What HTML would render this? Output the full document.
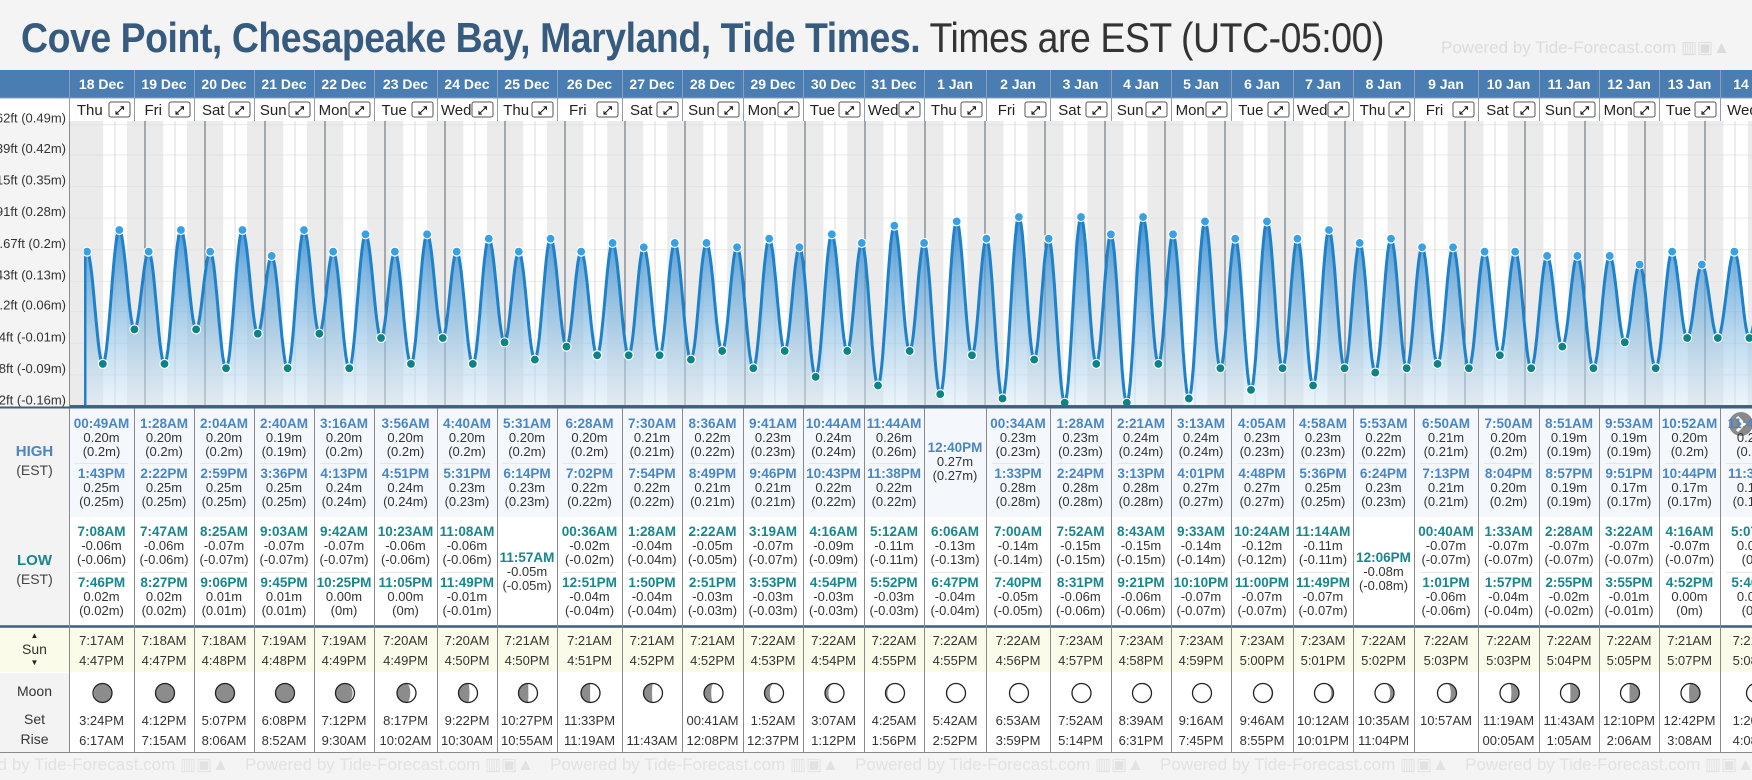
<!DOCTYPE html>
<html><head><meta charset="utf-8">
<style>
body{margin:0;width:1752px;height:780px;overflow:hidden;background:#f4f4f4;font-family:"Liberation Sans",Arial,sans-serif;position:relative}
.abs{position:absolute}
#title{left:21px;top:14px;font-size:42px;white-space:nowrap;transform-origin:0 0;letter-spacing:-0.5px}
#title b{color:#365b7e}
#title span{color:#333}
#powered{left:1441px;top:38px;font-size:17px;color:#dcdcdc;white-space:nowrap}
.cell{position:absolute;text-align:center;font-size:13px;color:#333;line-height:14px;white-space:nowrap}
.ht{color:#4a86c4;font-weight:bold;font-size:13.5px}
.lt{color:#17878d;font-weight:bold;font-size:13.5px}
</style></head>
<body>
<div id="title" class="abs"><b>Cove Point, Chesapeake Bay, Maryland, Tide Times.</b> <span>Times are EST (UTC-05:00)</span></div>
<div id="powered" class="abs">Powered by Tide-Forecast.com ▥▣▲</div>
<svg id="chart" class="abs" style="left:0;top:0" width="1752" height="780"></svg>
<div id="table" class="abs" style="left:0;top:0;width:1752px;height:780px"></div>
<script>
// ---------- data ----------
const days=["18 Dec","19 Dec","20 Dec","21 Dec","22 Dec","23 Dec","24 Dec","25 Dec","26 Dec","27 Dec","28 Dec","29 Dec","30 Dec","31 Dec","1 Jan","2 Jan","3 Jan","4 Jan","5 Jan","6 Jan","7 Jan","8 Jan","9 Jan","10 Jan","11 Jan","12 Jan","13 Jan","14 Jan"];
const weekdays=["Thu","Fri","Sat","Sun","Mon","Tue","Wed","Thu","Fri","Sat","Sun","Mon","Tue","Wed","Thu","Fri","Sat","Sun","Mon","Tue","Wed","Thu","Fri","Sat","Sun","Mon","Tue","Wed"];
const highs=[
[["00:49AM",0.20],["1:43PM",0.25]],[["1:28AM",0.20],["2:22PM",0.25]],[["2:04AM",0.20],["2:59PM",0.25]],[["2:40AM",0.19],["3:36PM",0.25]],
[["3:16AM",0.20],["4:13PM",0.24]],[["3:56AM",0.20],["4:51PM",0.24]],[["4:40AM",0.20],["5:31PM",0.23]],[["5:31AM",0.20],["6:14PM",0.23]],
[["6:28AM",0.20],["7:02PM",0.22]],[["7:30AM",0.21],["7:54PM",0.22]],[["8:36AM",0.22],["8:49PM",0.21]],[["9:41AM",0.23],["9:46PM",0.21]],
[["10:44AM",0.24],["10:43PM",0.22]],[["11:44AM",0.26],["11:38PM",0.22]],[["12:40PM",0.27]],[["00:34AM",0.23],["1:33PM",0.28]],
[["1:28AM",0.23],["2:24PM",0.28]],[["2:21AM",0.24],["3:13PM",0.28]],[["3:13AM",0.24],["4:01PM",0.27]],[["4:05AM",0.23],["4:48PM",0.27]],
[["4:58AM",0.23],["5:36PM",0.25]],[["5:53AM",0.22],["6:24PM",0.23]],[["6:50AM",0.21],["7:13PM",0.21]],[["7:50AM",0.20],["8:04PM",0.20]],
[["8:51AM",0.19],["8:57PM",0.19]],[["9:53AM",0.19],["9:51PM",0.17]],[["10:52AM",0.20],["10:44PM",0.17]],[["11:45AM",0.20],["11:34PM",0.17]]];
const lows=[
[["7:08AM",-0.06],["7:46PM",0.02]],[["7:47AM",-0.06],["8:27PM",0.02]],[["8:25AM",-0.07],["9:06PM",0.01]],[["9:03AM",-0.07],["9:45PM",0.01]],
[["9:42AM",-0.07],["10:25PM",0.00]],[["10:23AM",-0.06],["11:05PM",-0.00]],[["11:08AM",-0.06],["11:49PM",-0.01]],[["11:57AM",-0.05]],
[["00:36AM",-0.02],["12:51PM",-0.04]],[["1:28AM",-0.04],["1:50PM",-0.04]],[["2:22AM",-0.05],["2:51PM",-0.03]],[["3:19AM",-0.07],["3:53PM",-0.03]],
[["4:16AM",-0.09],["4:54PM",-0.03]],[["5:12AM",-0.11],["5:52PM",-0.03]],[["6:06AM",-0.13],["6:47PM",-0.04]],[["7:00AM",-0.14],["7:40PM",-0.05]],
[["7:52AM",-0.15],["8:31PM",-0.06]],[["8:43AM",-0.15],["9:21PM",-0.06]],[["9:33AM",-0.14],["10:10PM",-0.07]],[["10:24AM",-0.12],["11:00PM",-0.07]],
[["11:14AM",-0.11],["11:49PM",-0.07]],[["12:06PM",-0.08]],[["00:40AM",-0.07],["1:01PM",-0.06]],[["1:33AM",-0.07],["1:57PM",-0.04]],
[["2:28AM",-0.07],["2:55PM",-0.02]],[["3:22AM",-0.07],["3:55PM",-0.01]],[["4:16AM",-0.07],["4:52PM",-0.00]],[["5:07AM",-0.00],["5:46PM",0.00]]];
const prevLow=["7:05PM",0.02];
const sunrise=["7:17AM","7:18AM","7:18AM","7:19AM","7:19AM","7:20AM","7:20AM","7:21AM","7:21AM","7:21AM","7:21AM","7:22AM","7:22AM","7:22AM","7:22AM","7:22AM","7:23AM","7:23AM","7:23AM","7:23AM","7:23AM","7:22AM","7:22AM","7:22AM","7:22AM","7:22AM","7:21AM","7:21AM"];
const sunset=["4:47PM","4:47PM","4:48PM","4:48PM","4:49PM","4:49PM","4:50PM","4:50PM","4:51PM","4:52PM","4:52PM","4:53PM","4:54PM","4:55PM","4:55PM","4:56PM","4:57PM","4:58PM","4:59PM","5:00PM","5:01PM","5:02PM","5:03PM","5:03PM","5:04PM","5:05PM","5:07PM","5:08PM"];
const moonset=["3:24PM","4:12PM","5:07PM","6:08PM","7:12PM","8:17PM","9:22PM","10:27PM","11:33PM","","00:41AM","1:52AM","3:07AM","4:25AM","5:42AM","6:53AM","7:52AM","8:39AM","9:16AM","9:46AM","10:12AM","10:35AM","10:57AM","11:19AM","11:43AM","12:10PM","12:42PM","1:20PM"];
const moonrise=["6:17AM","7:15AM","8:06AM","8:52AM","9:30AM","10:02AM","10:30AM","10:55AM","11:19AM","11:43AM","12:08PM","12:37PM","1:12PM","1:56PM","2:52PM","3:59PM","5:14PM","6:31PM","7:45PM","8:55PM","10:01PM","11:04PM","","00:05AM","1:05AM","2:06AM","3:08AM","4:08AM"];
const moonIllum=[0.05,0.02,0.0,0.03,0.1,0.3,0.42,0.48,0.52,0.55,0.62,0.72,0.82,0.9,0.96,1.0,1.0,1.0,1.0,0.95,0.88,0.8,0.7,0.6,0.52,0.47,0.42,0.35];
const moonWaxing=[0,0,1,1,1,1,1,1,1,1,1,1,1,1,1,1,1,0,0,0,0,0,0,0,0,0,0,0];
const tickFt=[-0.52,-0.28,-0.04,0.2,0.43,0.67,0.91,1.15,1.39,1.62];
const tickM=[-0.16,-0.09,-0.01,0.06,0.13,0.2,0.28,0.35,0.42,0.49];

// ---------- layout ----------
const colB=[69,134,194,254,314,374,437,497,557,622,682,743,803,864,924,986,1050,1111,1171,1231,1293,1353,1414,1478,1539,1599,1659,1720,1790];
const X0=85, PXDAY=60, CT=121, CB=406;
function mins(s){let m=s.match(/(\d+):(\d+)(AM|PM)/);let h=+m[1]%12;if(m[3]=="PM")h+=12;return h*60+ +m[2];}
function xT(day,s){return X0+(day+mins(s)/1440)*PXDAY;}
function yM(m){return 338-m*432;}
const NS="http://www.w3.org/2000/svg";
const svg=document.getElementById('chart');
function mk(tag,attrs,parent){const e=document.createElementNS(NS,tag);for(const k in attrs)e.setAttribute(k,attrs[k]);(parent||svg).appendChild(e);return e;}

// header
mk('rect',{x:0,y:70,width:1752,height:28,fill:'#4a7db2'});
mk('rect',{x:0,y:98,width:1752,height:23,fill:'#fff'});
mk('rect',{x:0,y:121,width:69,height:285,fill:'#f4f4f4'});
// chart background (night)
mk('rect',{x:69,y:CT,width:1683,height:CB-CT,fill:'#ebebeb'});
const dayG=mk('g',{});


for(let d=0;d<days.length;d++){
  const a=xT(d,sunrise[d]),b=xT(d,sunset[d]);
  mk('rect',{x:a,y:CT,width:b-a,height:CB-CT,fill:'#ffffff'},dayG);
}
// gridlines
for(let i=0;i<tickFt.length;i++){
  const y=yM(tickFt[i]*0.3048);
  mk('line',{x1:69,x2:1752,y1:y,y2:y,stroke:'#dcdcdc','stroke-opacity':0.6,'stroke-width':1});
}
for(let d=0;d<days.length;d++){
  const xn=X0+(d+0.5)*PXDAY;
  mk('line',{x1:xn,x2:xn,y1:CT,y2:CB,stroke:'#d8d8d8','stroke-width':1});
  if(d>0){const xm=X0+d*PXDAY;
    const l=mk('line',{x1:xm,x2:xm,y1:CT,y2:CB,stroke:'#5a6470','stroke-width':1});
    
    }
}
// extremes
let ext=[{t:xT(-1,prevLow[0]),h:prevLow[1],k:'L'}];
for(let d=0;d<days.length;d++){
  highs[d].forEach(e=>ext.push({t:xT(d,e[0]),h:e[1],k:'H'}));
  lows[d].forEach(e=>ext.push({t:xT(d,e[0]),h:e[1],k:'L'}));
}
ext.sort((a,b)=>a.t-b.t);
let pts=[];
for(let i=0;i<ext.length-1;i++){
  const a=ext[i],b=ext[i+1];
  for(let s=0;s<14;s++){const f=s/14;const h=a.h+(b.h-a.h)*(1-Math.cos(Math.PI*f))/2;pts.push([a.t+(b.t-a.t)*f,yM(h)]);}
}
const last=ext[ext.length-1];pts.push([last.t,yM(last.h)]);
const defs=mk('defs',{});
const cp=mk('clipPath',{id:'cp'},defs);mk('rect',{x:84,y:CT,width:1668,height:CB-CT},cp);
const gr=mk('linearGradient',{id:'gf',x1:0,y1:0,x2:0,y2:1,gradientUnits:'objectBoundingBox'},defs);
mk('stop',{offset:'0','stop-color':'#2f86cc','stop-opacity':0.9},gr);
mk('stop',{offset:'0.55','stop-color':'#7ab4de','stop-opacity':0.6},gr);
mk('stop',{offset:'1','stop-color':'#d9eaf7','stop-opacity':0.5},gr);
const g=mk('g',{'clip-path':'url(#cp)'});
let dline=pts.map((p,i)=>(i?'L':'M')+p[0].toFixed(1)+','+p[1].toFixed(1)).join('');
const area=mk('path',{d:dline+`L${pts[pts.length-1][0]},${CB}L${pts[0][0]},${CB}Z`,fill:'url(#gf)'},g);


const curve=mk('path',{d:dline,fill:'none',stroke:'#1e82cb','stroke-width':3},g);


mk('line',{x1:85,x2:85,y1:yM(0.20),y2:CB,stroke:'#1e82cb','stroke-width':3},g);
ext.forEach(e=>{
  const c=mk('circle',{cx:e.t,cy:yM(e.h),r:4.5,fill:e.k=='H'?'#38a0e4':'#0c8386',stroke:'#fff','stroke-width':1.2},g);
  
  
});
mk('line',{x1:69,x2:1752,y1:CB+0.5,y2:CB+0.5,stroke:'#2f6aa3','stroke-width':3});
// y axis labels
const yax=mk('g',{});


for(let i=0;i<tickFt.length;i++){
  const t=mk('text',{x:66,y:yM(tickFt[i]*0.3048)-2,'text-anchor':'end','font-size':13,fill:'#333'},yax);
  t.textContent=tickFt[i]+'ft ('+tickM[i]+'m)';
  
  
}
mk('line',{x1:69.5,x2:69.5,y1:70,y2:752,stroke:'#8a8a8a','stroke-width':1});
// header columns
for(let d=0;d<days.length;d++){
  const a=colB[d],b=colB[d+1],cx=(a+b)/2;
  const t=mk('text',{x:cx,y:89,'text-anchor':'middle','font-size':14,'font-weight':'bold',fill:'#fff'});
  t.textContent=days[d];
  
  
  const w=mk('text',{x:a+(b-a)*0.32,y:115,'text-anchor':'middle','font-size':15,fill:'#222'});
  w.textContent=weekdays[d];
  
  
  const bx=mk('rect',{x:b-25,y:102,width:21,height:15,rx:2,fill:'#fff',stroke:'#555','stroke-width':1});
  
  
  mk('text',{x:b-14.5,y:114,'text-anchor':'middle','font-size':11,fill:'#111','font-weight':'bold'}).textContent='⤢';
  mk('line',{x1:a+0.5,x2:a+0.5,y1:70,y2:121,stroke:'#8aa0b8','stroke-width':1});
}
mk('line',{x1:0,x2:1752,y1:98,y2:98,stroke:'#8aa0b8','stroke-width':1});

// ---------- table ----------
mk('rect',{x:0,y:408,width:69,height:344,fill:'#f3f3f3'});
mk('rect',{x:69,y:408,width:1683,height:109,fill:'#f4f8fd'});
mk('rect',{x:69,y:517,width:1683,height:109,fill:'#fff'});
mk('rect',{x:0,y:627,width:1752,height:46,fill:'#fbfbea'});
mk('rect',{x:69,y:673,width:1683,height:79,fill:'#fff'});
mk('rect',{x:0,y:673,width:69,height:79,fill:'#f3f3f3'});
mk('line',{x1:0,x2:1752,y1:626.5,y2:626.5,stroke:'#3d5f80','stroke-width':2.5});
mk('line',{x1:0,x2:1752,y1:672.5,y2:672.5,stroke:'#fff','stroke-width':1});
mk('line',{x1:0,x2:1752,y1:752.5,y2:752.5,stroke:'#8a8a8a','stroke-width':1});
const tb=document.getElementById('table');
function txt(x,y,s,cls,name){const e=document.createElement('div');e.className='cell '+(cls||'');e.style.left=(x-40)+'px';e.style.width='80px';e.style.top=(y-7)+'px';e.textContent=s;
  
  
  tb.appendChild(e);return e;}
function fmt(v){return v.toFixed(2)+'m';}
function fmt2(v){let s=(+v.toFixed(2)).toString();if(s=='-0')s='0';return '('+s+'m)';}
function entry(cx,y,e,cls,name){txt(cx,y,e[0],cls,name+'-time');txt(cx,y+14,fmt(e[1]),'',name+'-height');txt(cx,y+28,fmt2(e[1]),'',name+'-height-alt');}
for(let d=0;d<days.length;d++){
  const a=colB[d],b=colB[d+1],cx=(a+b)/2;
  mk('line',{x1:a+0.5,x2:a+0.5,y1:408,y2:752,stroke:'#8a8a8a','stroke-width':1});
  if(highs[d].length==2){entry(cx,424,highs[d][0],'ht','high-tide');entry(cx,474,highs[d][1],'ht','high-tide');
    mk('line',{x1:a+6,x2:b-6,y1:463.5,y2:463.5,stroke:'#e2e8ee'});}
  else entry(cx,448,highs[d][0],'ht','high-tide');
  if(lows[d].length==2){entry(cx,532,lows[d][0],'lt','low-tide');entry(cx,583,lows[d][1],'lt','low-tide');
    mk('line',{x1:a+6,x2:b-6,y1:572.5,y2:572.5,stroke:'#e6e6e6'});}
  else entry(cx,558,lows[d][0],'lt','low-tide');
  txt(cx,641,sunrise[d],'','sunrise-time');txt(cx,661,sunset[d],'','sunset-time');
  txt(cx,721,moonset[d],'','moonset-time');txt(cx,741,moonrise[d],'','moonrise-time');
  // moon
  const mx=cx+1,my=693,r=9.5,k=moonIllum[d],wx=moonWaxing[d];
  const mg=mk('g',{});
  
  
  mk('circle',{cx:mx,cy:my,r:r,fill:'#8c8c8c'},mg);
  const rx=r*Math.abs(1-2*k);
  let p;
  if(wx){p=`M${mx},${my-r}A${r},${r} 0 0 1 ${mx},${my+r}A${rx},${r} 0 0 ${k<0.5?0:1} ${mx},${my-r}Z`;}
  else{p=`M${mx},${my-r}A${r},${r} 0 0 0 ${mx},${my+r}A${rx},${r} 0 0 ${k<0.5?1:0} ${mx},${my-r}Z`;}
  if(k>0.005)mk('path',{d:p,fill:'#fff'},mg);
  mk('circle',{cx:mx,cy:my,r:r,fill:'none',stroke:'#222','stroke-width':1.3},mg);
}
mk('line',{x1:0,x2:1752,y1:407.5,y2:407.5,stroke:'#3d5f80','stroke-width':2});
// left labels
function lab(x,y,s,style,name){const e=document.createElement('div');e.className='cell';e.style.left='0px';e.style.width='69px';e.style.top=(y-8)+'px';e.style.cssText+=style;e.textContent=s;
  
  
  tb.appendChild(e);}
lab(0,453,'HIGH','font-weight:bold;color:#4a86c4;font-size:15px;','high-label');
lab(0,471,'(EST)','font-size:14px;color:#444;','high-tz-label');
lab(0,562,'LOW','font-weight:bold;color:#17878d;font-size:15px;','low-label');
lab(0,580,'(EST)','font-size:14px;color:#444;','low-tz-label');
lab(0,637,'▲','font-size:8px;color:#222;','sun-up-arrow');
lab(0,650,'Sun','font-size:14px;color:#333;','sun-label');
lab(0,664,'▼','font-size:8px;color:#222;','sun-down-arrow');
lab(0,692,'Moon','font-size:14px;color:#333;','moon-label');
lab(0,720,'Set','font-size:14px;color:#333;','moonset-label');
lab(0,740,'Rise','font-size:14px;color:#333;','moonrise-label');
// footer watermark
for(let i=0;i<6;i++){const e=document.createElement('div');e.className='cell';e.style.cssText=`left:${-60+i*305}px;top:758px;width:300px;font-size:17px;color:#e2e2e2;text-align:left`;e.textContent='Powered by Tide-Forecast.com ▥▣▲';
  
  
  tb.appendChild(e);}
// scroll button
const sb=mk('g',{});


mk('circle',{cx:1741,cy:424,r:12,fill:'#777','fill-opacity':0.85},sb);
mk('path',{d:'M1737,417L1744,424L1737,431',fill:'none',stroke:'#fff','stroke-width':3},sb);
// fit title width
const tt=document.getElementById('title');const w=tt.getBoundingClientRect().width;tt.style.transform='scaleX('+(1363/w)+')';
</script>
</body></html>
